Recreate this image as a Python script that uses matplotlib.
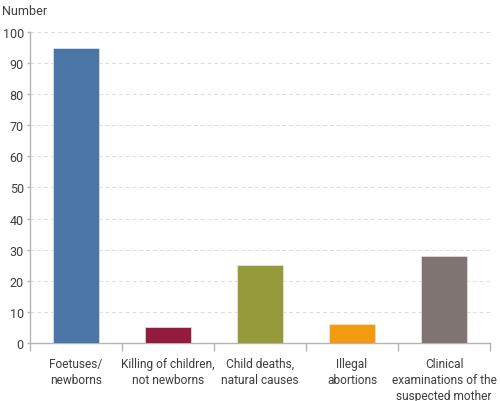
import numpy as np
import matplotlib
matplotlib.use('Agg')
import matplotlib.pyplot as plt

categories = ['Foetuses/\nnewborns', 'Killing of children,\nnot newborns',
              'Child deaths,\nnatural causes', 'Illegal\nabortions',
              'Clinical\nexaminations of the\nsuspected mother']
values = [95, 5, 25, 6, 28]
colors = ['#4a75a6', '#941b40', '#959a3b', '#f39a11', '#7f7472']
y_ticks = list(range(0, 101, 10))

text_col = '#3c3c3c'
axis_col = '#b4b4b4'

plt.rcParams['font.family'] = ['Roboto', 'DejaVu Sans']

fig = plt.figure(figsize=(5, 4.02), dpi=100)
ax = fig.add_axes([0.06, 0.1443, 0.92, 0.7736])

x = np.arange(len(categories))
ax.bar(x, values, width=0.5, color=colors, edgecolor='#e6e6e6', linewidth=0.5, zorder=3)

ax.set_xlim(-0.5, len(categories) - 0.5)
ax.set_ylim(0, 100)
ax.set_yticks(y_ticks)
ax.set_yticklabels([str(v) for v in y_ticks], color=text_col, fontsize=9)
ax.yaxis.grid(True, color='#dcdcdc', linestyle=(0, (4, 3)), linewidth=0.7, zorder=0)

ax.set_xticks(x)
ax.set_xticklabels(categories, color=text_col, fontsize=8.6, linespacing=1.3)
ax.tick_params(axis='x', which='major', length=0, pad=10)
ax.set_xticks(np.arange(len(categories) + 1) - 0.5, minor=True)
ax.tick_params(axis='x', which='minor', length=6, color=axis_col, width=1)
ax.tick_params(axis='y', length=2.5, color=axis_col, width=1, pad=2)

for s in ['top', 'right']:
    ax.spines[s].set_visible(False)
for s in ['left', 'bottom']:
    ax.spines[s].set_color(axis_col)
    ax.spines[s].set_linewidth(1)

fig.text(0.004, 0.988, 'Number', ha='left', va='top', color=text_col, fontsize=9)

fig.savefig('out.png', dpi=100)
